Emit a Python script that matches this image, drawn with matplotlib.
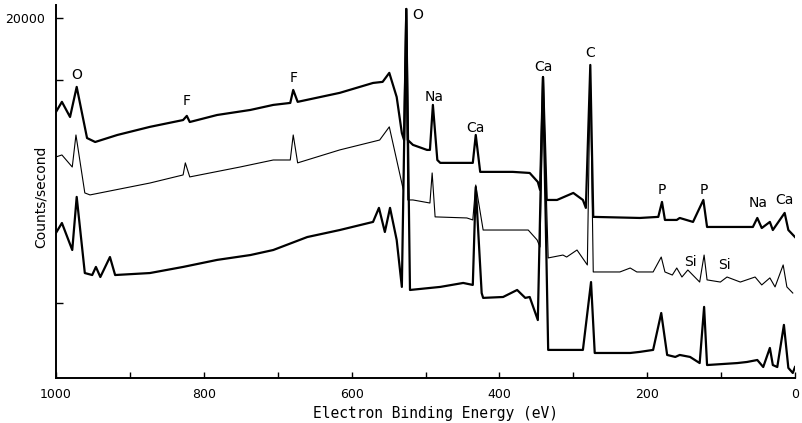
import matplotlib
matplotlib.use("Agg")
import matplotlib.pyplot as plt

# ------------------------------------------------------------
# Espectros XPS, energía en eV y cuentas/s
# ------------------------------------------------------------

top_ev = [1000, 992, 981, 972, 958, 947, 917, 873, 828, 823, 819, 782, 737, 706,
          683, 679, 673, 616, 571, 558, 549, 539, 532, 529, 526, 524, 517, 498,
          494, 490, 484, 480, 444, 436, 432, 426, 382, 359, 348, 345, 341, 336,
          322, 300, 287, 283, 277, 273, 210, 185, 180, 176, 160, 156, 138, 124,
          119, 57, 51, 45, 34, 30, 14, 9, 0]
top_cps = [14780, 15340, 14500, 16170, 13330, 13110, 13500, 13950, 14330, 14560,
           14220, 14610, 14890, 15170, 15280, 16000, 15340, 15840, 16390, 16450,
           16950, 15610, 13610, 13220, 20500, 13220, 12950, 12670, 12670, 15170,
           12110, 11950, 11950, 11950, 13500, 11450, 11450, 11390, 10890, 10450,
           16720, 9890, 9890, 10280, 9890, 9450, 17390, 8950, 8890, 8950, 9780,
           8780, 8780, 8890, 8670, 9890, 8390, 8390, 8890, 8330, 8670, 8220,
           9170, 8220, 7830]

mid_ev = [1000, 992, 978, 973, 961, 954, 873, 828, 825, 819, 751, 706, 683, 679,
          673, 616, 562, 549, 539, 530, 526, 524, 517, 494, 491, 487, 444, 436,
          432, 422, 382, 361, 349, 345, 341, 334, 314, 309, 295, 281, 277, 273,
          237, 223, 214, 192, 181, 176, 166, 160, 153, 145, 129, 123, 119, 101,
          92, 74, 54, 45, 34, 27, 16, 11, 3]
mid_cps = [12280, 12390, 11720, 13500, 10280, 10170, 10830, 11280, 11950, 11170,
           11720, 12110, 12110, 13500, 11950, 12670, 13220, 13950, 12110, 10450,
           20300, 9890, 9890, 9720, 11390, 8950, 8890, 8780, 10720, 8220, 8220,
           8220, 7670, 7280, 16500, 6670, 6830, 6720, 7110, 6280, 17000, 5890,
           5890, 6110, 5890, 5890, 6720, 5890, 5720, 6110, 5610, 6000, 5330,
           6830, 5450, 5330, 5610, 5330, 5610, 5170, 5560, 5060, 6280, 5060, 4720]

bot_ev = [1000, 992, 978, 972, 961, 951, 946, 940, 927, 920, 873, 828, 782, 737,
          706, 660, 616, 571, 563, 555, 548, 539, 532, 526, 521, 480, 449, 436,
          432, 424, 422, 395, 376, 365, 359, 348, 341, 334, 287, 276, 271, 223,
          210, 192, 181, 173, 162, 156, 142, 129, 123, 119, 78, 65, 51, 43, 34,
          30, 24, 15, 9, 3, 0]
bot_cps = [8060, 8610, 7110, 10060, 5830, 5720, 6170, 5610, 6720, 5720, 5830, 6170,
           6560, 6830, 7110, 7830, 8220, 8670, 9450, 8110, 9450, 7670, 5060, 20500,
           4890, 5060, 5280, 5170, 10610, 4720, 4450, 4500, 4890, 4450, 4500, 3220,
           16720, 1560, 1560, 5330, 1390, 1390, 1450, 1560, 3610, 1280, 1170, 1280,
           1170, 830, 3950, 720, 830, 890, 1000, 610, 1670, 720, 610, 2950, 560,
           280, 610]

# Etiquetas de los picos
peak_names = ['O', 'F', 'F', 'O', 'Na', 'Ca', 'Ca', 'C', 'P', 'P', 'Na', 'Ca', 'Si', 'Si']
peak_ev = [972, 823, 679, 511, 489, 432, 340, 277, 180, 123, 50, 14, 142, 95]
peak_cps = [16830, 15390, 16670, 20170, 15610, 13890, 17280, 18060, 10450, 10450,
            9720, 9890, 6450, 6280]

x_major = [1000, 800, 600, 400, 200, 0]
x_minor = [900, 700, 500, 300, 100]
y_ticks = [4170, 16560, 20000]
y_tick_labels = ['', '', '20000']

# ------------------------------------------------------------
# FIGURA
# ------------------------------------------------------------

fig = plt.figure(figsize=(8.02, 4.23), dpi=100)
ax = fig.add_axes([56 / 802, 45 / 423, 739 / 802, 373 / 423])

ax.plot(top_ev, top_cps, color='black', lw=1.6)
ax.plot(mid_ev, mid_cps, color='black', lw=0.8)
ax.plot(bot_ev, bot_cps, color='black', lw=1.6)

for name, e, c in zip(peak_names, peak_ev, peak_cps):
    ax.text(e, c, name, ha='center', va='center', fontsize=10, family='DejaVu Sans')

ax.set_xlim(1000, 0)
ax.set_ylim(0, 20720)

ax.spines['top'].set_visible(False)
ax.spines['right'].set_visible(False)
ax.spines['left'].set_linewidth(1.4)
ax.spines['bottom'].set_linewidth(1.4)

ax.set_xticks(x_major)
ax.set_xticks(x_minor, minor=True)
ax.set_yticks(y_ticks)
ax.set_yticklabels(y_tick_labels)
ax.tick_params(axis='x', which='both', direction='in', length=4, width=1,
               labelsize=9, pad=7)
ax.tick_params(axis='y', direction='in', length=5, width=1, labelsize=9, pad=8)

ax.set_xlabel('Electron Binding Energy (eV)', fontsize=10.5, family='DejaVu Sans Mono')
ax.xaxis.set_label_coords(0.513, -0.075)
ax.set_ylabel('Counts/second', fontsize=10)
ax.yaxis.set_label_coords(-0.011, 0.485)

plt.savefig('out.png', dpi=100)
